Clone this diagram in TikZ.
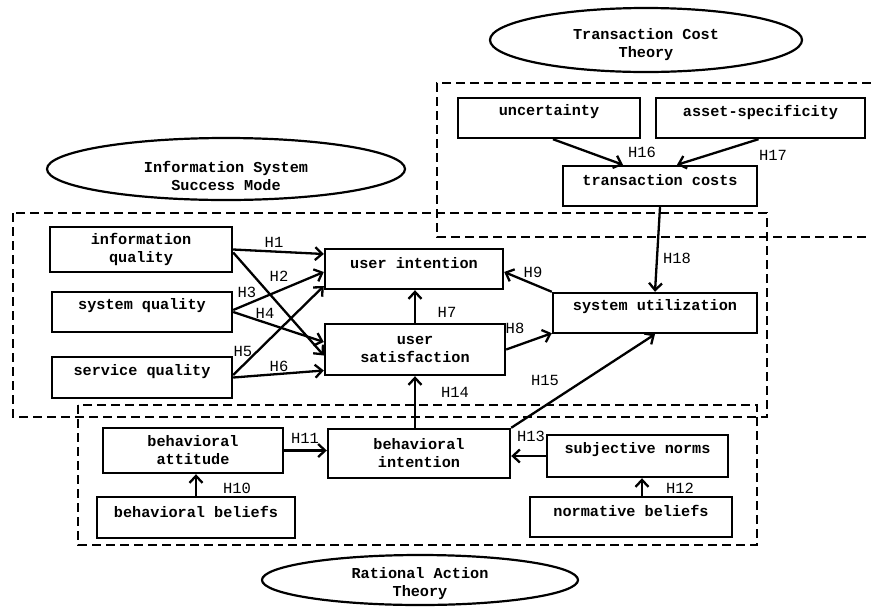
\documentclass[tikz,border=0pt]{standalone}
\usepackage{fontspec}
\setmonofont{Liberation Mono}
\usetikzlibrary{arrows.meta,shapes.geometric}
\begin{document}
\begin{tikzpicture}[x=1pt,y=-1pt,
  box/.style={draw,line width=2.4pt,inner sep=0pt,align=center,
    font=\ttfamily\bfseries\fontsize{15.2}{18}\selectfont},
  boxlab/.style={inner sep=0pt,yshift=6pt,font=\ttfamily\bfseries\fontsize{15.2}{18}\selectfont},
  hl/.style={inner sep=0pt,font=\ttfamily\fontsize{15.5}{18}\selectfont},
  arr/.style={line width=2.3pt,-{Straight Barb[length=7pt,width=13pt,line width=2.3pt]}},
  grp/.style={line width=2.4pt,dash pattern=on 9pt off 5pt},
  theory/.style={draw,ellipse,line width=2.2pt,inner sep=0pt},
  thlab/.style={inner sep=0pt,align=center,font=\ttfamily\bfseries\fontsize{15.2}{18}\selectfont}]
\useasboundingbox (0,0) rectangle (871,606);

% groups
\draw[grp] (871,83) -- (437,83) -- (437,237) -- (871,237);
\draw[grp] (13,213) rectangle (767,417);
\draw[grp] (78,405) rectangle (757,545);

% theory ellipses
\node[theory,minimum width=312pt,minimum height=64pt,
  label={[thlab,yshift=-5pt]center:Transaction Cost\\Theory}] (tct) at (646,40) {};
\node[theory,minimum width=358pt,minimum height=62pt,
  label={[thlab,yshift=-7pt]center:Information System\\Success Mode}] (iss) at (226,169) {};
\node[theory,minimum width=316pt,minimum height=50pt,
  label={[thlab,yshift=-4pt]center:Rational Action\\Theory}] (rat) at (420,580) {};

% transaction cost boxes
\node[box,minimum width=182pt,minimum height=40pt,label={[boxlab]center:uncertainty}] (unc) at (549,118) {};
\node[box,minimum width=209pt,minimum height=40pt,label={[boxlab]center:asset-specificity}] (ass) at (760.5,118) {};
\node[box,minimum width=194pt,minimum height=40pt,label={[boxlab]center:transaction costs}] (tc) at (660,186) {};

% IS success boxes
\node[box,minimum width=182pt,minimum height=45pt] (iq) at (141,249.5) {information\\quality};
\node[box,minimum width=180pt,minimum height=40pt,label={[boxlab]center:system quality}] (sq) at (142,312) {};
\node[box,minimum width=180pt,minimum height=41pt,label={[boxlab]center:service quality}] (svq) at (142,377.5) {};
\node[box,minimum width=178pt,minimum height=40pt,label={[boxlab]center:user intention}] (ui) at (414,269) {};
\node[box,minimum width=180pt,minimum height=51pt] (us) at (415,349.5) {user\\satisfaction};
\node[box,minimum width=204pt,minimum height=40pt,label={[boxlab]center:system utilization}] (su) at (655,313) {};

% rational action boxes
\node[box,minimum width=180pt,minimum height=45pt] (ba) at (193,450.5) {behavioral\\attitude};
\node[box,minimum width=182pt,minimum height=49pt] (bi) at (419,453.5) {behavioral\\intention};
\node[box,minimum width=198pt,minimum height=41pt,label={[boxlab,yshift=-0.5pt]center:behavioral beliefs}] (bb) at (196,517.5) {};
\node[box,minimum width=181pt,minimum height=42pt,label={[boxlab]center:subjective norms}] (sn) at (637.5,456) {};
\node[box,minimum width=202pt,minimum height=40pt,label={[boxlab]center:normative beliefs}] (nb) at (631,517) {};

% arrows
\draw[arr] (iq.east) -- ([yshift=15pt]ui.west);
\draw[arr] ([yshift=-3pt]iq.east) -- ([yshift=-6pt]us.west);
\draw[arr] ([yshift=2pt]sq.east) -- ([yshift=-3pt]ui.west);
\draw[arr] (sq.east) -- ([yshift=7.5pt]us.west);
\draw[arr] ([yshift=2.5pt]svq.east) -- ([yshift=-17pt]ui.west);
\draw[arr] (svq.east) -- ([yshift=-21pt]us.west);
\draw[arr] (us.north) -- (us.north |- ui.south);
\draw[arr] (us.east) -- ([yshift=1pt]su.south west);
\draw[arr] (su.north west) -- ([yshift=-3pt]ui.east);
\draw[arr] ([xshift=-4pt]bi.north) -- ([xshift=-4pt]bi.north |- us.south);
\draw[arr] (bi.north east) -- (su.south);
\draw[arr] (bb.north) -- (bb.north |- ba.south);
\draw[arr] (ba.east) -- (ba.east -| bi.west);
\draw[arr] ([xshift=11pt]nb.north) -- ([xshift=11pt]nb.north |- sn.south);
\draw[arr] (sn.west) -- (sn.west -| bi.east);
\draw[arr] ([xshift=4pt]unc.south) -- ([xshift=-37pt]tc.north);
\draw[arr] ([xshift=-2pt]ass.south) -- ([xshift=17pt]tc.north);
\draw[arr] (tc.south) -- (su.north);

% hypothesis labels
\node[hl] (h1) at (274,242) {H1};
\node[hl] (h2) at (279,276) {H2};
\node[hl] (h3) at (247,292) {H3};
\node[hl] (h4) at (265,313) {H4};
\node[hl] (h5) at (243,351) {H5};
\node[hl] (h6) at (279,366) {H6};
\node[hl] (h7) at (447,312) {H7};
\node[hl] (h8) at (515,328) {H8};
\node[hl] (h9) at (533,272) {H9};
\node[hl] (h10) at (237,488) {H10};
\node[hl] (h11) at (305,438) {H11};
\node[hl] (h12) at (680,488) {H12};
\node[hl] (h13) at (531,436) {H13};
\node[hl] (h14) at (455,392) {H14};
\node[hl] (h15) at (545,380) {H15};
\node[hl] (h16) at (642,152) {H16};
\node[hl] (h17) at (773,155) {H17};
\node[hl] (h18) at (677,258) {H18};
\end{tikzpicture}
\end{document}
